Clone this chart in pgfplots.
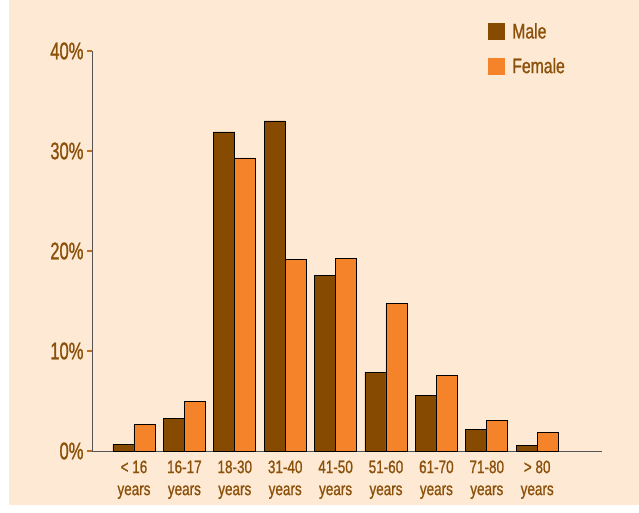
\documentclass[border=0pt]{standalone}
\usepackage{pgfplots}
\pgfplotsset{compat=1.18}
\usepackage{fontspec}
\setmainfont{Liberation Sans}[FakeStretch=0.75, FakeBold=1]
\newfontfamily\ylab{Liberation Sans}[FakeStretch=0.69, FakeBold=1]
\definecolor{bg}{RGB}{254,234,212}
\definecolor{maleC}{RGB}{134,74,0}
\definecolor{femC}{RGB}{244,131,42}
\definecolor{txt}{RGB}{139,80,10}
\definecolor{axc}{RGB}{85,85,85}
\definecolor{tickc}{RGB}{190,110,30}
\begin{document}
\begin{tikzpicture}[x=1pt,y=1pt]
\fill[white] (0,0) rectangle (639,512);
\fill[bg] (9,7) rectangle (639,512);
\begin{axis}[
  at={(92pt,61pt)}, anchor=south west,
  scale only axis, width=510pt, height=400pt,
  xmin=-0.833, xmax=9.286, ymin=0, ymax=40,
  axis lines*=left, axis line style={axc, line width=1pt},
  ybar, bar width=21pt,
  xtick={0,...,8},
  xticklabels={{< 16\\years},{16-17\\years},{18-30\\years},{31-40\\years},{41-50\\years},{51-60\\years},{61-70\\years},{71-80\\years},{> 80\\years}},
  x tick label style={align=center, font=\fontsize{18}{22}\selectfont, text=txt, yshift=-1pt},
  x tick style={draw=none},
  ytick={0,10,20,30,40}, yticklabels={0\%,10\%,20\%,30\%,40\%},
  y tick label style={font=\ylab\fontsize{24}{28}\selectfont, text=txt},
  y tick style={tickc, line width=1.2pt},
  major tick length=5pt, tick align=outside,
  clip=false,
  legend style={draw=none, fill=none, at={(0.77,1.08)}, anchor=north west,
    font=\fontsize{21}{25}\selectfont, text=txt, row sep=14pt},
  legend cell align=left,
]
\addlegendimage{legend image code/.code={\fill[maleC] (0pt,-8pt) rectangle (16pt,8pt); \path (22pt,0pt);}}
\addlegendentry{Male}
\addlegendimage{legend image code/.code={\fill[femC] (0pt,-8pt) rectangle (16pt,8pt); \path (22pt,0pt);}}
\addlegendentry{Female}
\addplot[fill=maleC, draw=black, line width=0.9pt, bar shift=-10.5pt, forget plot] coordinates {
(0,0.7) (1,3.3) (2,31.9) (3,33.0) (4,17.6) (5,7.9) (6,5.6) (7,2.2) (8,0.6)};
\addplot[fill=femC, draw=black, line width=0.9pt, bar shift=10.5pt, forget plot] coordinates {
(0,2.7) (1,5.0) (2,29.3) (3,19.2) (4,19.3) (5,14.8) (6,7.6) (7,3.1) (8,1.9)};
\end{axis}
\end{tikzpicture}
\end{document}
